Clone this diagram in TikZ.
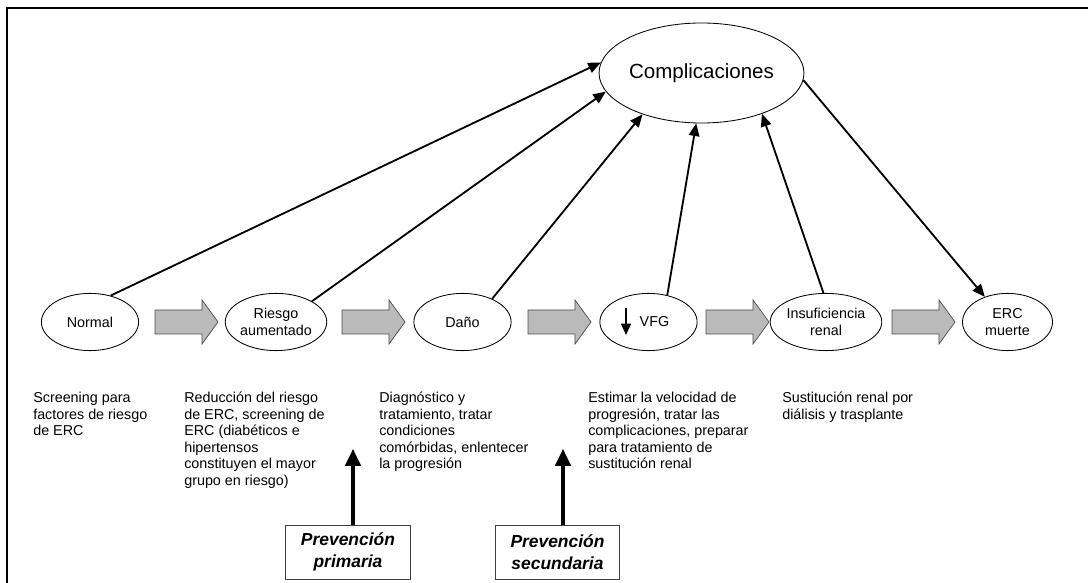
\documentclass[tikz,border=0pt]{standalone}
\usepackage{fontspec}
\setmainfont{Liberation Sans}
\usetikzlibrary{shapes.geometric,arrows.meta}

\begin{document}
\begin{tikzpicture}[x=0.025cm,y=-0.025cm,
  every node/.style={font=\fontsize{10.2}{11.7}\selectfont},
  etapa/.style={ellipse,draw,line width=0.6pt,minimum width=2.43cm,minimum height=1.43cm,inner sep=0pt,align=center},
  nota/.style={anchor=north west,align=left,inner sep=0pt},
  prev/.style={draw=black!75,line width=0.7pt,minimum width=3.1cm,minimum height=1.35cm,inner sep=0pt,align=center,font=\fontsize{12.4}{15.8}\selectfont\bfseries\itshape},
  flecha/.style={line width=1.3pt,-{Triangle[length=9pt,width=7.5pt]}},
  paso/.style={fill=black!27,draw=black!70,line width=0.5pt},
  subir/.style={line width=2.2pt,-{Triangle[length=12pt,width=11pt]}}]
\useasboundingbox (0,0) rectangle (1088,583);
\draw[line width=1.8pt] (7,600) |- (1100,8);

\node[etapa,minimum width=4.68cm,minimum height=2.5cm,font=\fontsize{14.6}{17}\selectfont] (compl) at (701.5,73) {Complicaciones};

\node[etapa] (normal) at (90,322) {Normal};
\node[etapa] (riesgo) at (276,322) {Riesgo\\aumentado};
\node[etapa] (dano) at (462.5,322) {Daño};
\node[etapa] (vfg) at (648.5,322) {\hspace{8.5pt}VFG};
\node[etapa] (insuf) at (826,322) {Insuficiencia\\renal};
\node[etapa,minimum width=2.25cm] (erc) at (1007.5,322) {ERC\\muerte};

\foreach \a in {155,342,528,706,892}
  \filldraw[paso] (\a,310) -- ++(47,0) -- ++(0,-10) -- ++(16,22) -- ++(-16,22) -- ++(0,-10) -- ++(-47,0) -- cycle;

\draw[line width=1pt,-{Triangle[length=8pt,width=7pt]}] ([shift={(-22.5,-14)}]vfg.center) -- ([shift={(-22.5,13)}]vfg.center);

\draw[flecha] (normal.52) -- (compl.174);
\draw[flecha] (riesgo.30) -- (compl.191);
\draw[flecha] (dano.38) -- (compl.215);
\draw[flecha] (vfg.55) -- (compl.264);
\draw[flecha] (insuf.95) -- (compl.326);
\draw[flecha] (compl.356) -- (erc.132);

\node[nota] (txtnormal) at (33,392) {Screening para\\factores de riesgo\\de ERC};
\node[nota] (txtriesgo) at (184,392) {Reducción del riesgo\\de ERC, screening de\\ERC (diabéticos e\\hipertensos\\constituyen el mayor\\grupo en riesgo)};
\node[nota] (txtdano) at (379,392) {Diagnóstico y\\tratamiento, tratar\\condiciones\\comórbidas, enlentecer\\la progresión};
\node[nota] (txtvfg) at (588,392) {Estimar la velocidad de\\progresión, tratar las\\complicaciones, preparar\\para tratamiento de\\sustitución renal};
\node[nota] (txtinsuf) at (782,392) {Sustitución renal por\\diálisis y trasplante};

\node[prev] (primaria) at (348,552) {Prevención\\primaria};
\node[prev] (secundaria) at (557.5,552) {Prevención\\secundaria};
\coordinate (pa) at (353,449);
\coordinate (pb) at (563,449);
\draw[subir] (pa |- primaria.north) -- (pa);
\draw[subir] (pb |- secundaria.north) -- (pb);
\end{tikzpicture}
\end{document}
